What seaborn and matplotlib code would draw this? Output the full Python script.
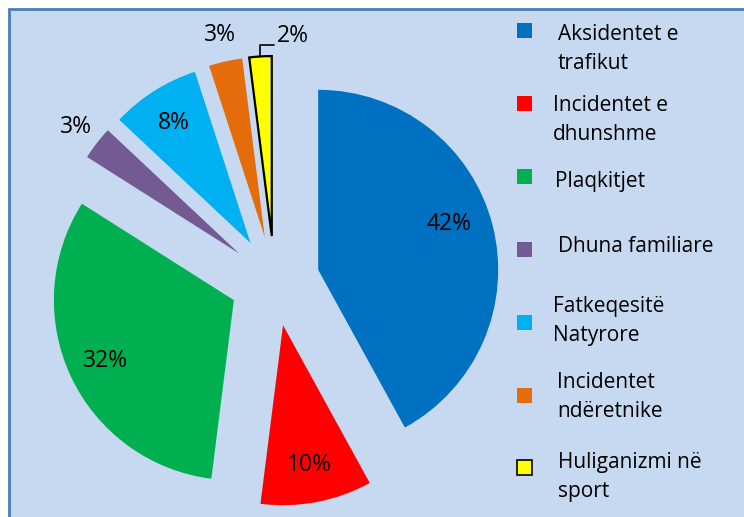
import matplotlib.pyplot as plt
import matplotlib.patches as mpatches
import seaborn as sns
import numpy as np

categories = ["Aksidentet e\ntrafikut", "Incidentet e\ndhunshme", "Plaqkitjet",
              "Dhuna familiare", "Fatkeqesitë\nNatyrore", "Incidentet\nndëretnike",
              "Huliganizmi në\nsport"]
shares = [42, 10, 32, 3, 8, 3, 2]
colors = ["#0070C0", "#FF0000", "#00B050", "#735A93", "#00B0F0", "#E46C0A", "#FFFF00"]

sns.set_style("white")
plt.rcParams['font.family'] = ['Open Sans', 'DejaVu Sans']

fig = plt.figure(figsize=(7.44, 5.17), dpi=100)
ax = fig.add_axes([0, 0, 1, 1])

# chart area background with border (pixel coordinates, y up)
ax.add_patch(mpatches.Rectangle((9, -10), 760, 518, facecolor="#C6D9F1",
                                edgecolor="#4A7EBB", lw=2, zorder=0))

R = 180
wedges, texts, autotexts = ax.pie(
    shares, colors=colors, startangle=90, counterclock=False,
    explode=[0.25 * R] * len(shares), center=(274.6, 236), radius=R,
    autopct='%1.0f%%', pctdistance=0.79, frame=True,
    wedgeprops=dict(linewidth=0), textprops=dict(fontsize=16.5, color="black"))

# yellow slice outlined in black
wedges[6].set_edgecolor("black")
wedges[6].set_linewidth(1.6)

def mid_point(w, dist, shift=0.0):
    a = np.deg2rad((w.theta1 + w.theta2) / 2 + shift)
    cx, cy = w.center
    return cx + dist * w.r * np.cos(a), cy + dist * w.r * np.sin(a)

# nudge the big label slightly up as in the original
autotexts[0].set_position(mid_point(wedges[0], 0.77, 5))

# small slices: labels outside
for i in (3, 5):
    autotexts[i].set_position(mid_point(wedges[i], 1.15))

x0, y0 = mid_point(wedges[6], 1.0)
ax.plot([x0, x0, x0 + 14], [y0, y0 + 11, y0 + 11], color="black", lw=1.2)
autotexts[6].set_position((x0 + 16, y0 + 20))
autotexts[6].set_ha("left")

# legend on the right
sq_y = [30, 103, 176, 249, 322, 395, 467]
txt_x = [558, 553, 555, 558, 553, 557, 558]
txt_y = [49, 120, 182, 247, 321, 397, 477]
for i, lab in enumerate(categories):
    ec = "black" if i == 6 else "none"
    ax.add_patch(mpatches.Rectangle((517, 517 - sq_y[i] - 7.5), 15, 15,
                                    facecolor=colors[i], edgecolor=ec, lw=1.2))
    ax.text(txt_x[i], 517 - txt_y[i], lab, fontsize=15, ha="left", va="center",
            linespacing=1.5, color="black")

ax.set_xlim(0, 744)
ax.set_ylim(0, 517)
ax.set_axis_off()

fig.savefig("out.png", dpi=100, facecolor="white")
